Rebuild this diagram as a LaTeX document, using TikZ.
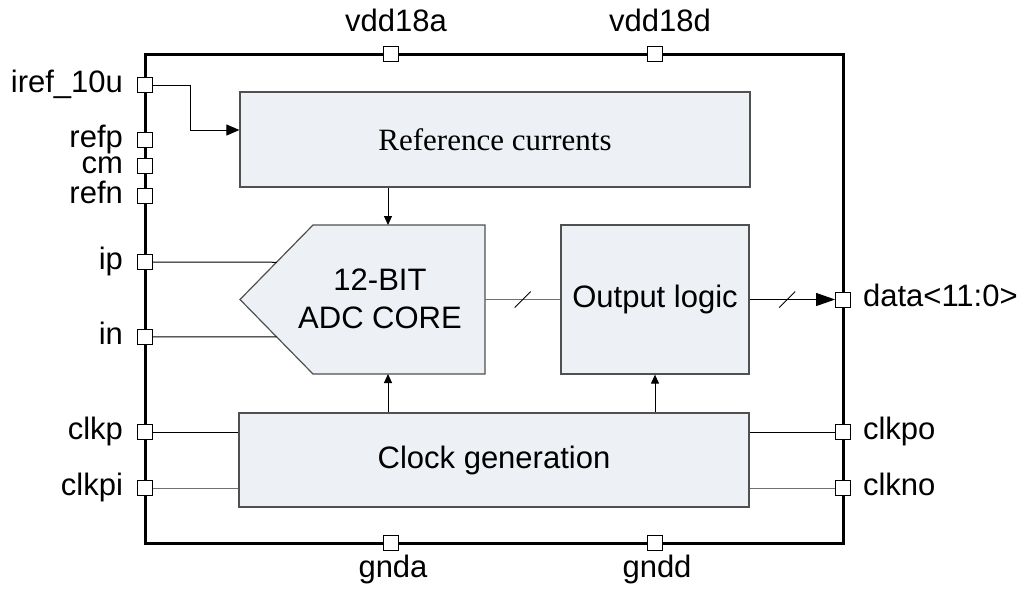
\documentclass[tikz,border=0pt]{standalone}
\usepackage{fontspec}
\setmainfont{Liberation Sans}
\newfontfamily\refserif{Liberation Serif}
\usetikzlibrary{positioning,calc,arrows.meta}

\definecolor{blockfill}{HTML}{EDF0F5}
\definecolor{blockline}{HTML}{505050}
\definecolor{wiregray}{HTML}{707070}

\tikzset{
  pad/.style={draw, fill=white, line width=0.8pt, minimum size=15pt, inner sep=0pt},
  padlabel/.style={font=\fontsize{31}{36}\selectfont, inner sep=1pt, text height=18pt, text depth=4pt},
  block/.style={draw=blockline, fill=blockfill, line width=1.2pt, font=\fontsize{31}{38}\selectfont, align=center},
  wire/.style={line width=1pt},
  smallarrow/.style={wire, -{Triangle[length=9pt,width=8pt]}},
  bigarrow/.style={wire, -{Triangle[length=13pt,width=11pt]}},
  busarrow/.style={wire, -{Triangle[length=19pt,width=13pt]}},
}

\begin{document}
\begin{tikzpicture}[x=1pt,y=-1pt]
  \useasboundingbox (0,0) rectangle (1027,590);

  % chip outline
  \draw[line width=3pt] (145,54) rectangle (843,543);

  % blocks
  \node[block, minimum width=510pt, minimum height=95pt] (ref) at (495,139.5) {\refserif Reference currents};
  \node[block, minimum width=188pt, minimum height=149pt] (out) at (655,299.5) {Output logic};
  \node[block, minimum width=510pt, minimum height=94pt] (clk) at (494,460) {Clock generation};

  % adc core
  \coordinate (adctl) at (313,225);
  \coordinate (adctr) at (485,225);
  \coordinate (adcbr) at (485,374);
  \coordinate (adcbl) at (313,374);
  \coordinate (adctip) at (240,299.5);
  \draw[draw=blockline, fill=blockfill, line width=1.2pt] (adctl) -- (adctr) -- (adcbr) -- (adcbl) -- (adctip) -- cycle;
  \node[font=\fontsize{31}{38}\selectfont, align=center] (adc) at (380,299) {12-BIT\\ADC CORE};
  \coordinate (adcin) at (388,225);
  \coordinate (adcclk) at (388,374);
  \coordinate (adcout) at (485,299.5);

  % pads, left side
  \foreach \name/\y/\txt in {iref/85/iref\_10u, refp/140/refp, cm/166/cm, refn/196/refn,
                             padip/262/ip, padin/337/in, clkp/432/clkp, clkpi/488/clkpi} {
    \node[pad] (\name) at (145,\y) {};
    \node[padlabel, left=13pt of \name] (\name-l) {\txt};
  }

  % pads, right side
  \foreach \name/\y/\txt in {paddata/299.5/data<11:0>, clkpo/432/clkpo, clkno/488/clkno} {
    \node[pad] (\name) at (843,\y) {};
    \node[padlabel, right=11pt of \name] (\name-l) {\txt};
  }

  % supply pads
  \node[pad] (vdda) at (391,54) {};
  \node[pad] (vddd) at (655,54) {};
  \node[pad] (gnda) at (391,543) {};
  \node[pad] (gndd) at (655,543) {};
  \node[padlabel, above=9pt of vdda, xshift=5pt] (vdda-l) {vdd18a};
  \node[padlabel, above=9pt of vddd, xshift=5pt] (vddd-l) {vdd18d};
  \node[padlabel, below=7pt of gnda, xshift=2pt] (gnda-l) {gnda};
  \node[padlabel, below=7pt of gndd, xshift=2pt] (gndd-l) {gndd};

  % wires
  \coordinate (irefbend) at (190,130);
  \draw[bigarrow] (iref) -| (irefbend) -- (irefbend -| ref.west);
  \draw[wire] (padip) -- ($(adctl)!.5!(adctip)$);
  \draw[wire] (padin) -- ($(adctip)!.5!(adcbl)$);
  \draw[smallarrow] (ref.south -| adcin) -- (adcin);
  \draw[smallarrow] (clk.north -| adcclk) -- (adcclk);
  \draw[smallarrow] (clk.north -| out) -- (out.south);

  \draw[wire, wiregray] (adcout) -- (out.west) coordinate[pos=.5] (bus1);
  \draw[wire] ($(bus1)+(-8,8)$) -- ($(bus1)+(8,-8)$);
  \draw[busarrow] (out) -- (paddata) coordinate[pos=.44] (bus2);
  \draw[wire] ($(bus2)+(-8,8)$) -- ($(bus2)+(8,-8)$);

  \draw[wire] (clkp) -- (clkp -| clk.west);
  \draw[wire, wiregray] (clkpi) -- (clkpi -| clk.west);
  \draw[wire] (clk.east |- clkpo) -- (clkpo);
  \draw[wire, wiregray] (clk.east |- clkno) -- (clkno);
\end{tikzpicture}
\end{document}
